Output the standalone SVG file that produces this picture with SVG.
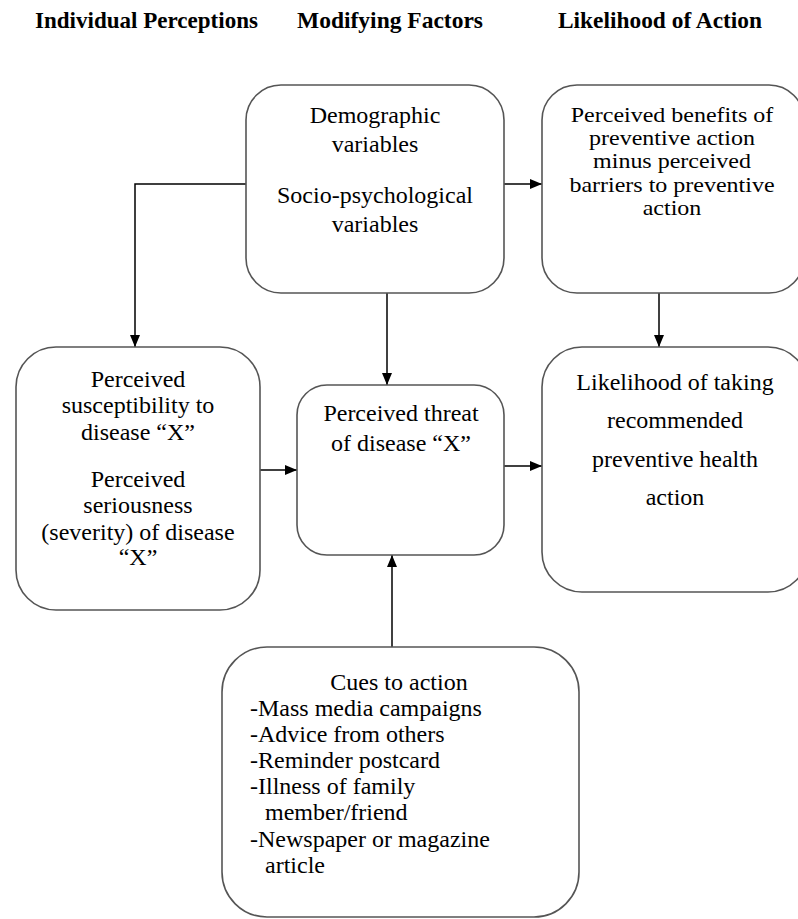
<svg xmlns="http://www.w3.org/2000/svg" width="798" height="919" viewBox="0 0 798 919">
<style>
.box{fill:#fff;stroke:#555;stroke-width:1.6}
text{font-family:'Liberation Serif',Tinos,'Times New Roman',Times,serif}
.t{font-size:24px;fill:#000;text-anchor:middle}
.s{font-size:20px}
.l{text-anchor:start}
.h{font-size:23px;font-weight:bold;fill:#000;text-anchor:middle}
.c{fill:none;stroke:#000;stroke-width:1.5}
</style>
<defs>
<marker id="ah" viewBox="0 0 12 10" refX="12" refY="5" markerWidth="12" markerHeight="10" markerUnits="userSpaceOnUse" orient="auto">
<path d="M0,0 L12,5 L0,10 Z" fill="#000"/>
</marker>
</defs>
<rect width="798" height="919" fill="#fff"/>
<g id="headers">
<text class="h" x="146.5" y="28" textLength="223" lengthAdjust="spacingAndGlyphs">Individual Perceptions</text>
<text class="h" x="390" y="28" textLength="186" lengthAdjust="spacingAndGlyphs">Modifying Factors</text>
<text class="h" x="660" y="28" textLength="204" lengthAdjust="spacingAndGlyphs">Likelihood of Action</text>
</g>
<g id="connectors">
<polyline class="c" points="246,184 135,184 135,347" marker-end="url(#ah)"/>
<line class="c" x1="504" y1="184" x2="542" y2="184" marker-end="url(#ah)"/>
<line class="c" x1="387" y1="293" x2="387" y2="385" marker-end="url(#ah)"/>
<line class="c" x1="659" y1="293" x2="659" y2="347" marker-end="url(#ah)"/>
<line class="c" x1="260" y1="470" x2="297" y2="470" marker-end="url(#ah)"/>
<line class="c" x1="504" y1="466" x2="542" y2="466" marker-end="url(#ah)"/>
<line class="c" x1="392" y1="647" x2="392" y2="555" marker-end="url(#ah)"/>
</g>
<g id="modifying">
<rect class="box" x="246" y="85" width="258" height="208" rx="35" ry="35"/>
<text class="t" x="375" y="123">Demographic</text>
<text class="t" x="375" y="152">variables</text>
<text class="t" x="375" y="203">Socio-psychological</text>
<text class="t" x="375" y="232">variables</text>
</g>
<g id="benefits">
<rect class="box" x="542" y="85" width="262" height="208" rx="35" ry="35"/>
<g transform="translate(672,0) scale(1.2,1)">
<text class="t s" x="0" y="122">Perceived benefits of</text>
<text class="t s" x="0" y="145">preventive action</text>
<text class="t s" x="0" y="168">minus perceived</text>
<text class="t s" x="0" y="192">barriers to preventive</text>
<text class="t s" x="0" y="215">action</text>
</g>
</g>
<g id="individual">
<rect class="box" x="16" y="347" width="244" height="263" rx="40" ry="40"/>
<text class="t" x="138" y="387">Perceived</text>
<text class="t" x="138" y="413">susceptibility to</text>
<text class="t" x="138" y="440">disease “X”</text>
<text class="t" x="138" y="487">Perceived</text>
<text class="t" x="138" y="513">seriousness</text>
<text class="t" x="138" y="540">(severity) of disease</text>
<text class="t" x="138" y="565">“X”</text>
</g>
<g id="threat">
<rect class="box" x="297" y="385" width="207" height="170" rx="30" ry="30"/>
<text class="t" x="401" y="421">Perceived threat</text>
<text class="t" x="401" y="451">of disease “X”</text>
</g>
<g id="likelihood">
<rect class="box" x="542" y="347" width="266" height="245" rx="40" ry="40"/>
<text class="t" x="675" y="390">Likelihood of taking</text>
<text class="t" x="675" y="428">recommended</text>
<text class="t" x="675" y="467">preventive health</text>
<text class="t" x="675" y="505">action</text>
</g>
<g id="cues">
<rect class="box" x="222" y="647" width="357" height="270" rx="45" ry="45"/>
<text class="t" x="399" y="690">Cues to action</text>
<text class="t l" x="250" y="716">-Mass media campaigns</text>
<text class="t l" x="250" y="742">-Advice from others</text>
<text class="t l" x="250" y="768">-Reminder postcard</text>
<text class="t l" x="250" y="794">-Illness of family</text>
<text class="t l" x="265" y="820">member/friend</text>
<text class="t l" x="250" y="847">-Newspaper or magazine</text>
<text class="t l" x="265" y="873">article</text>
</g>
</svg>
